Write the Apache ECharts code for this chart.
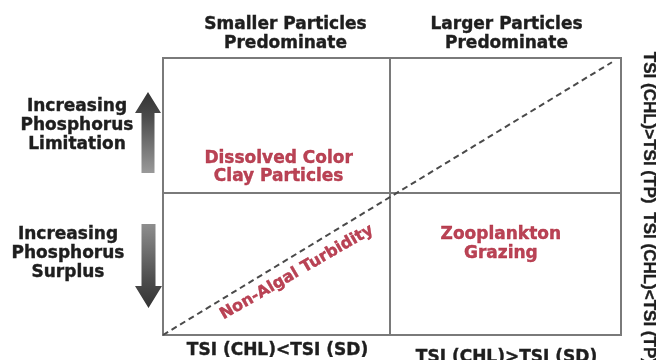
<!DOCTYPE html>
<html>
<head>
<meta charset="utf-8">
<script src="https://cdn.jsdelivr.net/npm/echarts@6/dist/echarts.min.js"></script>
<style>
html,body{margin:0;padding:0;background:#fff;}
#chart{width:656px;height:360px;}
</style>
</head>
<body>
<div id="chart"></div>
<script>
// ---- data ----
var topLabels = ['Smaller Particles\nPredominate', 'Larger Particles\nPredominate'];
var bottomLabels = ['TSI (CHL)<TSI (SD)', 'TSI (CHL)>TSI (SD)'];
var leftLabels = ['Increasing\nPhosphorus\nSurplus', 'Increasing\nPhosphorus\nLimitation']; // bottom to top
var leftLabelValues = [0.57, 1.475];
var rightLabels = ['TSI (CHL)<TSI (TP)', 'TSI (CHL)>TSI (TP)']; // bottom to top
var rightLabelValues = [0.33, 1.46];
var diagonal = [[0, 0], [1.98, 1.92]];
var quadrantNames = ['Dissolved Color\nClay Particles', 'Zooplankton\nGrazing'];
var quadrantX = [0.51, 1.49];
var quadrantY = [1.18, 0.64];
var diagonalName = 'Non-Algal Turbidity';
var diagonalLabelPos = [0.59, 0.44];
var xMax = 2.02, yMax = 1.95, split = 1;

// ---- chart ----
var RED = '#a8142b';
var DARK = '#1e1e1e';
var LINE = '#7a7a7a';
var FONT = '"DejaVu Sans", sans-serif';
var ARIAL = '"Liberation Sans", Arial, sans-serif';
var chart = echarts.init(document.getElementById('chart'), null, {renderer: 'canvas'});

var quadData = quadrantNames.map(function (n, i) { return {name: n, value: [quadrantX[i], quadrantY[i]]}; });

function nearestIdx(arr, v) {
  var best = 0;
  for (var i = 1; i < arr.length; i++) if (Math.abs(arr[i] - v) < Math.abs(arr[best] - v)) best = i;
  return best;
}
function arrowUp(cx, tipY, headY, bottomY, headHalf, shaftHalf) {
  return [[cx, tipY], [cx + headHalf, headY], [cx + shaftHalf, headY], [cx + shaftHalf, bottomY],
          [cx - shaftHalf, bottomY], [cx - shaftHalf, headY], [cx - headHalf, headY]];
}
function arrowDown(cx, tipY, headY, topY, headHalf, shaftHalf) {
  return [[cx, tipY], [cx + headHalf, headY], [cx + shaftHalf, headY], [cx + shaftHalf, topY],
          [cx - shaftHalf, topY], [cx - shaftHalf, headY], [cx - headHalf, headY]];
}

var labelBase = {fontSize: 17, lineHeight: 19, fontWeight: 'bold', fontFamily: FONT, color: DARK,
                 textBorderColor: DARK, textBorderWidth: 0.4};
function ts(extra) { return Object.assign({}, labelBase, extra); }
var hidden = {axisLine: {show: false}, axisTick: {show: false}, splitLine: {show: false}};

var option = {
  backgroundColor: '#ffffff',
  animation: false,
  grid: {
    left: 163, right: 35, top: 58, bottom: 25,
    containLabel: false, outerBoundsMode: 'none',
    show: true, borderColor: LINE, borderWidth: 2, backgroundColor: 'transparent'
  },
  xAxis: [
    Object.assign({type: 'value', min: 0, max: xMax, axisLabel: {show: false}}, hidden),
    Object.assign({
      type: 'category', position: 'top', data: [
        {value: topLabels[0], textStyle: ts({padding: [0, 0, 0, 16]})},
        {value: topLabels[1], textStyle: ts({})}
      ],
      axisLabel: Object.assign({margin: 5, interval: 0}, labelBase)
    }, hidden),
    Object.assign({
      type: 'category', position: 'bottom', data: [
        {value: bottomLabels[0], textStyle: ts({})},
        {value: bottomLabels[1], textStyle: ts({padding: [7, 0, 0, 0]})}
      ],
      axisLabel: Object.assign({margin: 6, interval: 0}, labelBase)
    }, hidden)
  ],
  yAxis: [
    Object.assign({type: 'value', min: 0, max: yMax, axisLabel: {show: false}}, hidden),
    Object.assign({
      type: 'value', position: 'left', min: 0, max: yMax,
      axisLabel: {
        show: true, customValues: leftLabelValues, margin: 86, align: 'center', verticalAlign: 'middle',
        formatter: function (v) {
          var i = nearestIdx(leftLabelValues, v);
          var tag = i === 0 ? 'lo' : 'hi';
          return leftLabels[i].split('\n').map(function (s) { return '{' + tag + '|' + s + '}'; }).join('\n');
        },
        rich: {
          lo: ts({padding: [0, 18, 0, 0]}),
          hi: ts({})
        }
      }
    }, hidden),
    Object.assign({
      type: 'value', position: 'right', min: 0, max: yMax,
      axisLabel: {
        show: true, customValues: rightLabelValues, margin: 19, rotate: -90,
        fontSize: 17, fontWeight: 'bold', fontFamily: ARIAL, color: DARK,
        textBorderColor: DARK, textBorderWidth: 0.4,
        formatter: function (v) { return rightLabels[nearestIdx(rightLabelValues, v)]; }
      }
    }, hidden)
  ],
  series: [
    {
      type: 'line', xAxisIndex: 0, yAxisIndex: 0, data: diagonal,
      symbol: 'none', silent: true, z: 3,
      lineStyle: {color: '#4a4a4a', width: 2, type: [6, 4]},
      markLine: {
        silent: true, symbol: 'none', animation: false, z: 2,
        label: {show: false},
        lineStyle: {color: LINE, width: 2, type: 'solid'},
        data: [{xAxis: split}, {yAxis: split}]
      }
    },
    {
      type: 'scatter', xAxisIndex: 0, yAxisIndex: 0, data: quadData,
      symbolSize: 1, itemStyle: {color: 'transparent'}, silent: true,
      label: {
        show: true, position: 'inside', formatter: '{b}', align: 'center', verticalAlign: 'middle',
        fontSize: 17, lineHeight: 18.5, fontWeight: 'bold', fontFamily: FONT, color: RED,
        textBorderColor: RED, textBorderWidth: 0.4
      }
    },
    {
      type: 'scatter', xAxisIndex: 0, yAxisIndex: 0,
      data: [{name: diagonalName, value: diagonalLabelPos}],
      symbolSize: 1, itemStyle: {color: 'transparent'}, silent: true,
      label: {
        show: true, position: 'inside', formatter: '{b}', rotate: 30, align: 'center', verticalAlign: 'middle',
        fontSize: 16, fontWeight: 'bold', fontFamily: FONT, color: RED,
        textBorderColor: RED, textBorderWidth: 0.4
      }
    }
  ],
  graphic: [
    {
      type: 'polygon', silent: true,
      shape: {points: arrowUp(148, 92, 113, 173, 13, 6.5)},
      style: {fill: new echarts.graphic.LinearGradient(0, 0, 0, 1, [
        {offset: 0, color: '#333333'}, {offset: 0.3, color: '#4a4a4a'}, {offset: 1, color: '#9a9a9a'}])}
    },
    {
      type: 'polygon', silent: true,
      shape: {points: arrowDown(148.5, 308, 286, 224, 13.5, 7)},
      style: {fill: new echarts.graphic.LinearGradient(0, 0, 0, 1, [
        {offset: 0, color: '#8e8e8e'}, {offset: 0.7, color: '#4a4a4a'}, {offset: 1, color: '#333333'}])}
    }
  ]
};
chart.setOption(option);
</script>
</body>
</html>
